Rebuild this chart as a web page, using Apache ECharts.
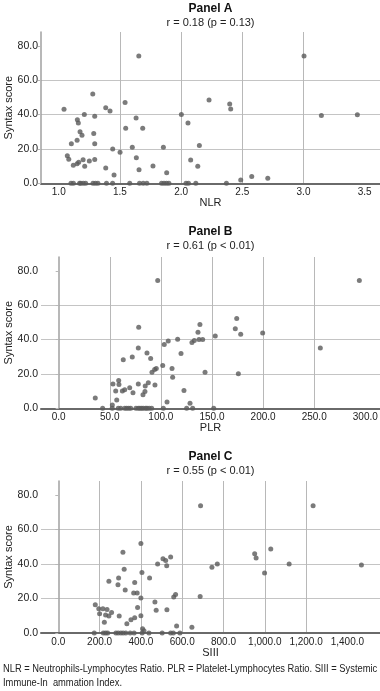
<!DOCTYPE html>
<html>
<head>
<meta charset="utf-8">
<script src="https://cdn.jsdelivr.net/npm/echarts@6/dist/echarts.min.js"></script>
<style>
  html, body { margin: 0; padding: 0; background: #fff; }
  #main { width: 380px; height: 691px; }
</style>
</head>
<body>
<div id="main"></div>
<script>
// Panel A: NLR vs Syntax score
var nlrX = [1.654, 3.004, 1.278, 1.043, 1.384, 1.419, 1.542, 1.209, 1.294, 1.152, 1.160, 1.632, 1.174, 1.190,
  1.286, 1.547, 1.686, 1.103, 1.150, 1.294, 1.441, 1.501, 1.601, 1.855, 2.002, 2.056, 2.149, 1.070, 1.082,
  1.119, 1.150, 1.163, 1.199, 1.212, 1.250, 1.294, 1.384, 1.452, 1.634, 1.656, 1.770, 1.882, 2.078, 2.136,
  2.228, 2.397, 2.405, 3.146, 3.440, 2.487, 2.577, 2.708,
  1.10, 1.12, 1.17, 1.18, 1.20, 1.22, 1.28, 1.30, 1.32, 1.39, 1.44, 1.58, 1.66, 1.69, 1.72, 1.84, 1.86,
  1.88, 1.90, 2.04, 2.06, 2.12, 2.37]
var nlrY = [74, 74, 52, 43, 44, 42, 47, 40, 39, 37, 35, 38, 30, 28,
  29, 32, 32, 23, 25, 23, 20, 18, 21, 21, 40, 35, 22, 16, 14,
  10.5, 11.4, 12.2, 13.7, 9.9, 13, 13.9, 8.9, 4.8, 14.9, 7.9, 10.1, 6.2, 13.5, 9.9,
  48.4, 46.1, 43.2, 39.5, 39.9, 1.9, 3.9, 2.9,
  0, 0, 0, 0, 0, 0, 0, 0, 0, 0, 0, 0, 0, 0, 0, 0, 0,
  0, 0, 0, 0, 0, 0]

// Panel B: PLR vs Syntax score
var plrX = [96.9, 294.2, 78.3, 77.9, 63.2, 72.0, 86.4, 90.0, 35.8, 53.1, 58.7, 59.0, 55.8, 56.8, 52.5,
  62.3, 64.6, 69.5, 72.7, 77.9, 82.5, 84.4, 84.7, 87.7, 94.2, 91.3, 93.9, 95.5, 101.8, 103.3, 107.2,
  116.4, 119.7, 110.9, 111.5, 106.0, 122.6, 128.5, 130.4, 132.7, 136.3, 138.2, 137.3, 140.9, 174.2,
  172.8, 178.1, 199.6, 153.2, 256.0, 143.2, 175.8,
  43.0, 52.4, 58.3, 60.7, 64.6, 66.5, 68.5, 70.5, 75.6, 77.9, 79.5, 81.2, 82.8, 85.1, 86.4, 88.5,
  91.0, 102.4, 125.2, 131.1, 151.7]
var plrY = [74.4, 74.4, 47.1, 35.1, 28.2, 29.9, 32.1, 29.0, 6.0, 14.1, 16.2, 13.9, 10.0, 4.8, 1.9,
  10.0, 10.8, 12.0, 9.0, 14.1, 7.9, 9.8, 12.9, 14.9, 13.5, 21.0, 22.6, 23.2, 24.9, 37.1, 39.2,
  40.2, 31.9, 23.2, 18.0, 3.7, 10.4, 2.9, 38.3, 39.4, 44.2, 48.7, 40.0, 40.0, 52.3,
  46.2, 43.1, 43.8, 42.1, 35.1, 21.0, 20.1,
  0, 0, 0, 0, 0, 0, 0, 0, 0, 0, 0, 0, 0, 0, 0, 0,
  0, 0, 0, 0, 0]

// Panel C: SIII vs Syntax score
var siiX = [689, 1234, 400, 313, 319, 405, 245, 289, 292, 324, 370, 442, 365, 382, 400, 481, 507, 520,
  525, 544, 559, 568, 687, 468, 474, 526, 179, 196, 200, 216, 236, 229, 245, 258, 223, 295, 332,
  352, 370, 384, 400, 408, 415, 573, 647, 951, 958, 1029, 999, 1118, 1468, 744, 770,
  174, 218, 229, 239, 279, 290, 303, 314, 327, 348, 367, 406, 439, 503, 544, 557, 589]
var siiY = [73.7, 73.7, 51.8, 46.8, 36.9, 35.0, 30.0, 28.0, 31.9, 24.9, 29.2, 31.9, 23.2, 23.2, 20.2,
  39.9, 43.0, 42.0, 39.0, 44.0, 20.9, 22.3, 21.1, 18.0, 13.1, 13.4, 16.3, 14.0, 11.1, 14.0, 13.6,
  10.4, 9.8, 11.9, 6.2, 9.8, 5.4, 7.7, 8.8, 14.8, 10.0, 2.5, 1.3, 4.0, 3.3, 45.9, 43.4, 48.6,
  34.7, 39.9, 39.3, 38.0, 39.9,
  0, 0, 0, 0, 0, 0, 0, 0, 0, 0, 0, 0, 0, 0, 0, 0, 0]

// tick labels
var ticksA = [1.0, 1.5, 2.0, 2.5, 3.0, 3.5]
var ticksB = [0, 50, 100, 150, 200, 250, 300]
var ticksC = [0, 200, 400, 600, 800, 1000, 1200, 1400]
var ticksY = [0, 20, 40, 60, 80]

var panelTitles = ['Panel A', 'Panel B', 'Panel C']
var panelStats = ['r = 0.18 (p = 0.13)', 'r = 0.61 (p < 0.01)', 'r = 0.55 (p < 0.01)']
var axisNames = ['NLR', 'PLR', 'SIII']
var footnote = ['NLR = Neutrophils-Lymphocytes Ratio. PLR = Platelet-Lymphocytes Ratio. SIII = Systemic',
  'Immune-In  ammation Index.']

var FONT = "'Liberation Sans', Arial, sans-serif"
var gridTops = [32, 257, 481]
var gridHeights = [151.3, 151.3, 152]
var titleTops = [2.5, 225.5, 450.5]
var xRanges = [[0.855, 3.625], [-17.3, 314.4], [-83.8, 1558]]
var xTicks = [ticksA, ticksB, ticksC]

function pairs(xs, ys) {
  var out = []
  for (var i = 0; i < xs.length; i++) out.push([xs[i], ys[i]])
  return out
}
var seriesData = [pairs(nlrX, nlrY), pairs(plrX, plrY), pairs(siiX, siiY)]

function fmt1(v) {
  return Number(v).toLocaleString('en-US', {minimumFractionDigits: 1, maximumFractionDigits: 1})
}

var myChart = echarts.init(document.getElementById('main'), null, {renderer: 'canvas'})

var option = {
  backgroundColor: '#fff',
  animation: false,
  title: [],
  grid: [],
  xAxis: [],
  yAxis: [],
  series: [],
  graphic: []
}

for (var p = 0; p < 3; p++) {
  option.title.push({
    text: panelTitles[p],
    subtext: panelStats[p],
    left: 210.5,
    textAlign: 'center',
    top: titleTops[p],
    itemGap: 3,
    padding: 0,
    textStyle: {fontFamily: FONT, fontSize: 12, fontWeight: 'bold', color: '#111'},
    subtextStyle: {fontFamily: FONT, fontSize: 11, color: '#222'}
  })
  option.grid.push({
    left: 41, right: 0, top: gridTops[p], height: gridHeights[p],
    containLabel: false, outerBoundsMode: 'none'
  })
  option.xAxis.push({
    type: 'value',
    gridIndex: p,
    min: xRanges[p][0],
    max: xRanges[p][1],
    name: axisNames[p],
    nameLocation: 'middle',
    nameGap: 14,
    nameMoveOverlap: false,
    nameTextStyle: {fontFamily: FONT, fontSize: 11, color: '#222'},
    axisLine: {show: true, onZero: false, lineStyle: {color: '#6a6a6a', width: 2}},
    axisTick: {show: false, customValues: xTicks[p]},
    axisLabel: {
      customValues: xTicks[p],
      margin: 4,
      fontFamily: FONT, fontSize: 10, color: '#222',
      formatter: fmt1
    },
    splitLine: {show: true, showMinLine: false, showMaxLine: false, lineStyle: {color: '#b8b8b8', width: 1}}
  })
  option.yAxis.push({
    type: 'value',
    gridIndex: p,
    min: 0,
    max: 88,
    name: 'Syntax score',
    nameLocation: 'middle',
    nameGap: 27,
    nameMoveOverlap: false,
    nameTextStyle: {fontFamily: FONT, fontSize: 11, color: '#222'},
    axisLine: {show: true, lineStyle: {color: '#a0a0a0', width: 1.5}},
    axisTick: {show: true, length: 3, customValues: ticksY, lineStyle: {color: '#b8b8b8'}},
    axisLabel: {
      customValues: ticksY,
      margin: 3,
      fontFamily: FONT, fontSize: 10.5, color: '#222',
      formatter: fmt1
    },
    splitLine: {show: true, showMinLine: false, showMaxLine: false, lineStyle: {color: '#c4c4c4', width: 1}}
  })
  option.series.push({
    type: 'scatter',
    xAxisIndex: p,
    yAxisIndex: p,
    symbol: 'circle',
    symbolSize: 5,
    itemStyle: {color: '#5a5a5a'},
    data: seriesData[p]
  })
}

// footnote, squeezed a little like the narrow original
option.graphic.push({
  type: 'text', x: 3, y: 664, scaleX: 0.935,
  style: {text: footnote[0], font: '10px ' + FONT, fill: '#222'}
})
option.graphic.push({
  type: 'text', x: 3, y: 678, scaleX: 0.935,
  style: {text: footnote[1], font: '10px ' + FONT, fill: '#222'}
})

myChart.setOption(option)
</script>
</body>
</html>
